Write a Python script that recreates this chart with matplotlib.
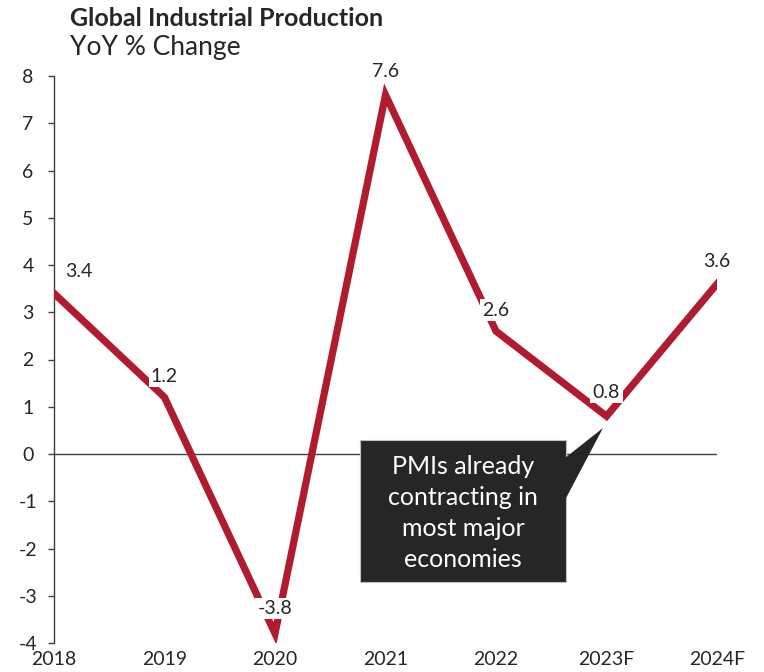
import numpy as np
import matplotlib
matplotlib.use("Agg")
import matplotlib.pyplot as plt
from matplotlib.patches import Polygon

plt.rcParams["font.family"] = ["Lato", "DejaVu Sans"]

# --- data ---
years = ["2018", "2019", "2020", "2021", "2022", "2023F", "2024F"]
growth = [3.4, 1.2, -3.8, 7.6, 2.6, 0.8, 3.6]
y_ticks = list(range(-4, 9))

LINE_RED = "#B01B2E"
TXT = "#262626"

fig = plt.figure(figsize=(7.64, 6.72), dpi=100)
ax = fig.add_axes([54 / 764, 1 - 643 / 672, (717 - 54) / 764, (643 - 76) / 672])

x = np.arange(len(years))
ax.plot(x, growth, color=LINE_RED, lw=5.2, solid_joinstyle="miter", zorder=3)
ax.axhline(0, color="#404040", lw=1.0, zorder=2)

ax.set_xlim(0, len(years) - 1)
ax.set_ylim(-4, 8)
ax.set_yticks(y_ticks)
ax.set_yticklabels([str(v) for v in y_ticks])
ax.set_xticks(x)
ax.set_xticklabels(years)

for s in ("top", "right", "bottom"):
    ax.spines[s].set_visible(False)
ax.spines["left"].set_color("#404040")
ax.spines["left"].set_linewidth(1.0)
ax.tick_params(axis="y", length=4.3, width=1.0, color="#404040", labelsize=14,
               labelcolor=TXT, pad=14.4)
ax.tick_params(axis="x", length=0, labelsize=14, labelcolor=TXT, pad=6)
for lbl in ax.get_yticklabels():
    lbl.set_horizontalalignment("center")

# value labels (offset in points from each point)
offsets = [(18, 16), (0, 15), (0, 18), (0, 16.5), (0, 15), (0, 17), (0, 16)]
for xi, v, (dx, dy) in zip(x, growth, offsets):
    ax.annotate(f"{v:.1f}", (xi, v), xytext=(dx, dy), textcoords="offset points",
                ha="center", va="center", fontsize=14, color=TXT, zorder=5,
                bbox=dict(boxstyle="square,pad=0.12", fc="white", ec="none"),
                annotation_clip=False)

# callout box
fig.text(463 / 764, 1 - 513 / 672,
         "PMIs already\ncontracting in\nmost major\neconomies",
         ha="center", va="center", fontsize=18, color="white", linespacing=1.42,
         zorder=6)
box = plt.Rectangle((360 / 764, 1 - 582 / 672), 206 / 764, 142 / 672,
                    transform=fig.transFigure, fc=TXT, ec="#bfbfbf", lw=0.8, zorder=4)
fig.add_artist(box)
tail = Polygon([(565 / 764, 1 - 458 / 672), (603 / 764, 1 - 428 / 672),
                (565 / 764, 1 - 500 / 672)], closed=True,
               transform=fig.transFigure, fc=TXT, ec="none", zorder=4)
fig.add_artist(tail)

fig.text(70 / 764, 1 - 18 / 672, "Global Industrial Production", fontsize=18,
         fontweight="bold", color=TXT, ha="left", va="center")
fig.text(70 / 764, 1 - 47 / 672, "YoY % Change", fontsize=19, color=TXT,
         ha="left", va="center")

fig.savefig("out.png", dpi=100)
